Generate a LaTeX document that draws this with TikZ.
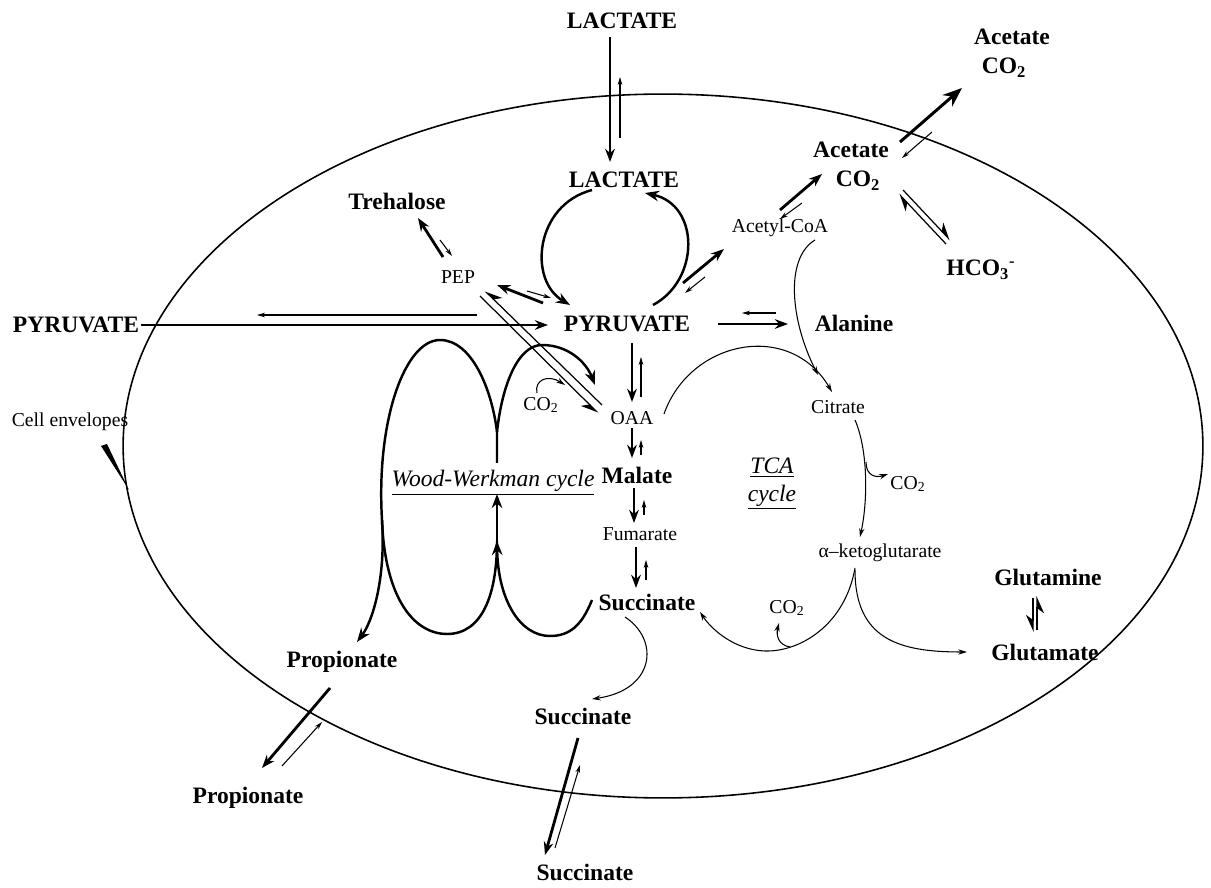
\documentclass[tikz,border=0pt]{standalone}
\usepackage{fontspec}
\setmainfont{Liberation Serif}
\usetikzlibrary{arrows.meta,positioning}

\tikzset{
  met/.style={font=\fontsize{13.4}{15}\selectfont\bfseries, inner sep=1pt},
  inter/.style={font=\fontsize{11.2}{13}\selectfont, inner sep=1pt},
  cyc/.style={font=\fontsize{13.4}{15.6}\selectfont\itshape, inner sep=1pt},
  flux/.style={line width=1.6pt, -{Stealth[length=7.5pt,width=5.5pt]}},
  bigflux/.style={line width=1.7pt, -{Stealth[length=11pt,width=8.5pt]}},
  rev/.style={line width=0.6pt, -{Stealth[length=4.5pt,width=2.6pt]}},
  loopline/.style={line width=1.4pt},
  looparrow/.style={line width=1.4pt, -{Stealth[length=8pt,width=6pt]}},
  route/.style={line width=0.6pt, -{Stealth[length=5pt,width=3pt]}},
  harpR/.style={line width=0.7pt, -{Stealth[length=9pt,width=8pt,right]}},
  harpL/.style={line width=0.7pt, -{Stealth[length=9pt,width=8pt,left]}},
}

\begin{document}
\begin{tikzpicture}[x=0.02cm, y=-0.02cm]
\useasboundingbox (0,0) rectangle (1211,888);

% cell
\draw[line width=0.9pt] (663,446) ellipse [x radius=10.8cm, y radius=7.04cm];

% outside
\node[met] (LacOut) at (622,21) {LACTATE};
\node[met] (PyrOut) at (76,325) {PYRUVATE};
\node[met] (AcOut) at (1012,37) {Acetate};
\node[met] (CoOut) at (1004,68) {CO\textsubscript{2}};
\node[met] (PropOut) at (248,798) {Propionate};
\node[met] (SucOut) at (585,872) {Succinate};
\node[inter] (Env) at (70,422) {Cell envelopes};

% inside
\node[met] (LacIn) at (624,180) {LACTATE};
\node[met] (Pyr) at (627,324) {PYRUVATE};
\node[met] (Treh) at (397,201) {Trehalose};
\node[inter] (PEP) at (458,277) {PEP};
\node[inter] (AcCoA) at (780,228) {Acetyl-CoA};
\node[met] (AcIn) at (851,150) {Acetate};
\node[met] (CoIn) at (858,181) {CO\textsubscript{2}};
\node[met] (Hco) at (981,270) {HCO\textsubscript{3}\textsuperscript{-}};
\node[met] (Ala) at (854,323) {Alanine};
\node[inter] (CoA) at (541,405) {CO\textsubscript{2}};
\node[inter] (OAA) at (632,418) {OAA};
\node[met] (Mal) at (637,475) {Malate};
\node[inter] (Fum) at (640,534) {Fumarate};
\node[met] (Suc) at (647,602) {Succinate};
\node[inter] (Cit) at (838,407) {Citrate};
\node[inter] (CoB) at (908,484) {CO\textsubscript{2}};
\node[inter] (Akg) at (880,553) {α–ketoglutarate};
\node[inter] (CoC) at (787,608) {CO\textsubscript{2}};
\node[met] (Gln) at (1048,577) {Glutamine};
\node[met] (Glu) at (1045,652) {Glutamate};
\node[met] (PropIn) at (342,662) {Propionate};
\node[met] (SucMid) at (583,716) {Succinate};
\node[cyc] (WW) at (493,483) {\underline{Wood-Werkman cycle}};
\node[cyc, align=center] (TCA) at (772,484) {\underline{TCA}\\\underline{cycle}};

% cell envelope pointer
\fill ([shift={(31,24)}]Env.center) -- ([shift={(37,22)}]Env.center) -- ([shift={(59,68)}]Env.center) -- cycle;

% transport
\draw[flux] ([shift={(-12,16)}]LacOut.center) -- ([shift={(-14,-18)}]LacIn.center);
\draw[rev] ([shift={(-4,-42)}]LacIn.center) -- ([shift={(-2,56)}]LacOut.center);
\draw[line width=1.6pt, -{Stealth[length=7.5pt,width=5.5pt]}] (PyrOut.east) -- ([shift={(-79,1)}]Pyr.center);
\draw[rev] ([shift={(-150,-9)}]Pyr.center) -- ([shift={(181,-10)}]PyrOut.center);
\draw[bigflux] ([shift={(49,-8)}]AcIn.center) -- ([shift={(-42,20)}]CoOut.center);
\draw[rev] ([shift={(-72,64)}]CoOut.center) -- ([shift={(44,-23)}]CoIn.center);
\draw[flux] ([shift={(-12,26)}]PropIn.center) -- ([shift={(14,-30)}]PropOut.center);
\draw[rev] ([shift={(34,-32)}]PropOut.center) -- ([shift={(-20,60)}]PropIn.center);
\draw[flux] ([shift={(-5,22)}]SucMid.center) -- ([shift={(-40,-17)}]SucOut.center);
\draw[rev] ([shift={(-30,-24)}]SucOut.center) -- ([shift={(-3,49)}]SucMid.center);

% lactate / pyruvate loop
\draw[looparrow] ([shift={(-32,10)}]LacIn.center) .. controls (535,205) and (528,280) .. ([shift={(-57,-19)}]Pyr.center);
\draw[looparrow] ([shift={(26,-19)}]Pyr.center) .. controls (700,280) and (700,205) .. ([shift={(21,13)}]LacIn.center);

% trehalose, PEP
\draw[flux] ([shift={(-15,-20)}]PEP.center) -- ([shift={(21,17)}]Treh.center);
\draw[rev] ([shift={(43,39)}]Treh.center) -- ([shift={(-6,-21)}]PEP.center);
\draw[flux] ([shift={(-84,-21)}]Pyr.center) -- ([shift={(39,8)}]PEP.center);
\draw[rev] ([shift={(69,14)}]PEP.center) -- ([shift={(-76,-26)}]Pyr.center);
\draw[harpR] ([shift={(-30,-13)}]OAA.center) -- ([shift={(27,14)}]PEP.center);
\draw[harpR] ([shift={(22,19)}]PEP.center) -- ([shift={(-34,-5)}]OAA.center);
\coordinate (CoAin) at (565,385);
\draw[route] ([shift={(-4,-12)}]CoA.center) .. controls (534,380) and (548,374) .. (CoAin);

% acetate branch
\draw[flux] ([shift={(56,-41)}]Pyr.center) -- ([shift={(-56,21)}]AcCoA.center);
\draw[rev] ([shift={(-75,49)}]AcCoA.center) -- ([shift={(58,-31)}]Pyr.center);
\draw[flux] ([shift={(0,-18)}]AcCoA.center) -- ([shift={(-29,24)}]AcIn.center);
\draw[rev] ([shift={(-49,53)}]AcIn.center) -- ([shift={(0,-9)}]AcCoA.center);
\draw[harpL] ([shift={(45,9)}]CoIn.center) -- ([shift={(-31,-30)}]Hco.center);
\draw[harpL] ([shift={(-35,-26)}]Hco.center) -- ([shift={(41,13)}]CoIn.center);

% alanine
\draw[flux] ([shift={(91,0)}]Pyr.center) -- ([shift={(-66,1)}]Ala.center);
\draw[rev] ([shift={(-78,-10)}]Ala.center) -- ([shift={(115,-11)}]Pyr.center);

% reductive branch
\draw[flux] ([shift={(5,19)}]Pyr.center) -- ([shift={(0,-16)}]OAA.center);
\draw[rev] ([shift={(9,-21)}]OAA.center) -- ([shift={(14,33)}]Pyr.center);
\draw[flux] ([shift={(0,10)}]OAA.center) -- ([shift={(-5,-17)}]Mal.center);
\draw[rev] ([shift={(4,-20)}]Mal.center) -- ([shift={(9,22)}]OAA.center);
\draw[flux] ([shift={(-3,13)}]Mal.center) -- ([shift={(-6,-11)}]Fum.center);
\draw[rev] ([shift={(4,-19)}]Fum.center) -- ([shift={(7,25)}]Mal.center);
\draw[flux] ([shift={(-4,13)}]Fum.center) -- ([shift={(-11,-14)}]Suc.center);
\draw[rev] ([shift={(-1,-22)}]Suc.center) -- ([shift={(6,26)}]Fum.center);

% Wood-Werkman figure eight
\coordinate (wwL) at (382,520);
\coordinate (wwC) at (497,432);
\coordinate (wwM) at (497,541);
\coordinate (wwU) at (497,494);
\draw[loopline] (wwL) .. controls (376,420) and (405,340) .. (440,340) .. controls (472,340) and (492,390) .. (wwC) -- (497,463);
\draw[looparrow] (wwC) .. controls (502,385) and (518,345) .. (542,345) .. controls (568,345) and (586,362) .. ([shift={(-37,-33)}]OAA.center);
\draw[looparrow] (wwM) -- (wwU);
\draw[loopline] (wwL) .. controls (385,600) and (415,634) .. (447,634) .. controls (482,634) and (497,595) .. (wwM);
\draw[looparrow] ([shift={(-55,-2)}]Suc.center) .. controls (582,625) and (570,636) .. (550,636) .. controls (520,636) and (498,600) .. (wwM);
\draw[looparrow] (wwL) .. controls (386,580) and (372,622) .. ([shift={(15,-20)}]PropIn.center);

% TCA cycle
\draw[route] ([shift={(32,-4)}]OAA.center) .. controls (690,340) and (790,320) .. ([shift={(-6,-15)}]Cit.center);
\draw[route] ([shift={(35,12)}]AcCoA.center) .. controls (785,258) and (790,320) .. ([shift={(-20,-32)}]Cit.center);
\draw[route] ([shift={(17,13)}]Cit.center) .. controls (868,450) and (868,500) .. ([shift={(-20,-16)}]Akg.center);
\coordinate (citOut) at (866,462);
\draw[route] (citOut) .. controls (866,476) and (876,478) .. ([shift={(-20,-10)}]CoB.center);
\draw[route] ([shift={(-25,15)}]Akg.center) .. controls (845,625) and (800,652) .. (765,651) .. controls (735,650) and (712,630) .. ([shift={(53,10)}]Suc.center);
\coordinate (akgOut) at (790,647);
\draw[route] (akgOut) .. controls (778,645) and (776,635) .. ([shift={(-8,15)}]CoC.center);
\draw[route] ([shift={(-25,17)}]Akg.center) .. controls (855,640) and (900,652) .. ([shift={(-78,0)}]Glu.center);
\draw[route] ([shift={(-22,15)}]Suc.center) .. controls (660,640) and (655,690) .. ([shift={(9,-17)}]SucMid.center);

% glutamine / glutamate
\draw[harpR] ([shift={(-15,21)}]Gln.center) -- ([shift={(-12,-20)}]Glu.center);
\draw[harpR] ([shift={(-8,-22)}]Glu.center) -- ([shift={(-11,19)}]Gln.center);

\end{tikzpicture}
\end{document}
